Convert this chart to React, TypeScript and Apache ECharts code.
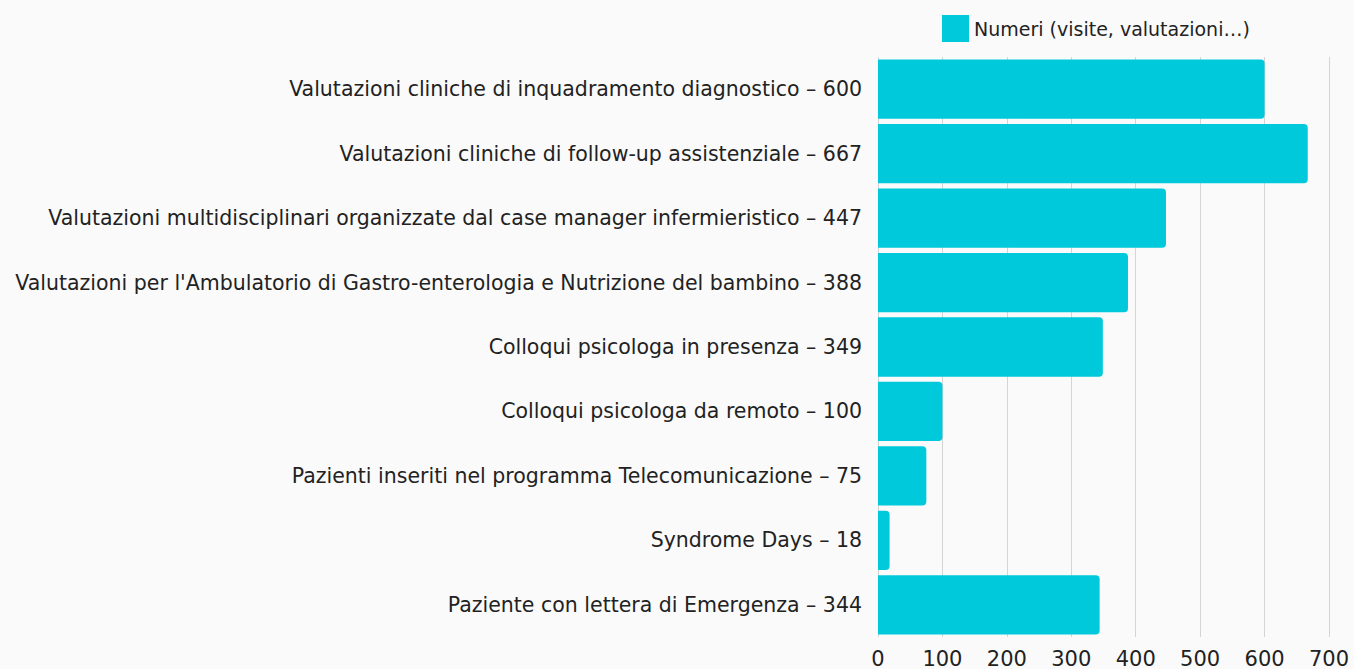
import React, { useEffect, useRef } from "react";
import * as echarts from "echarts";

const categories = [
  "Valutazioni cliniche di inquadramento diagnostico – 600",
  "Valutazioni cliniche di follow-up assistenziale – 667",
  "Valutazioni multidisciplinari organizzate dal case manager infermieristico – 447",
  "Valutazioni per l'Ambulatorio di Gastro-enterologia e Nutrizione del bambino – 388",
  "Colloqui psicologa in presenza – 349",
  "Colloqui psicologa da remoto – 100",
  "Pazienti inseriti nel programma Telecomunicazione – 75",
  "Syndrome Days – 18",
  "Paziente con lettera di Emergenza – 344",
];
const values = [600, 667, 447, 388, 349, 100, 75, 18, 344];
const seriesName = "Numeri (visite, valutazioni…)";

export default function App() {
  const ref = useRef<HTMLDivElement>(null);
  useEffect(() => {
    const chart = echarts.init(ref.current!, undefined, { renderer: "svg" });
    const font = "'DejaVu Sans', sans-serif";
    chart.setOption({
      animation: false,
      backgroundColor: "#fafafa",
      textStyle: { fontFamily: font },
      legend: {
        top: 10,
        left: 937,
        itemWidth: 27,
        itemHeight: 27,
        itemGap: 11,
        textStyle: { fontSize: 19, color: "#222", fontFamily: font },
        data: [{ name: seriesName, icon: "rect" }],
      },
      grid: { left: 878, right: 25, top: 57, bottom: 29, containLabel: false },
      xAxis: {
        type: "value",
        min: 0,
        max: 700,
        interval: 100,
        axisLine: { show: false },
        axisTick: { show: false },
        splitLine: { show: true, lineStyle: { color: "#d4d4d4", width: 1 } },
        axisLabel: { fontSize: 21, color: "#222", margin: 11, fontFamily: font },
      },
      yAxis: {
        type: "category",
        inverse: true,
        data: categories,
        axisLine: { show: false },
        axisTick: { show: false },
        axisLabel: { fontSize: 20.5, color: "#222", margin: 16, fontFamily: font },
      },
      series: [
        {
          name: seriesName,
          type: "bar",
          data: values,
          barCategoryGap: "8%",
          itemStyle: { color: "#00c9db", borderRadius: [0, 4, 4, 0] },
        },
      ],
    });
    return () => chart.dispose();
  }, []);
  return (
    <div
      ref={ref}
      style={{ position: "fixed", left: 0, top: 0, width: 1354, height: 669 }}
    />
  );
}
